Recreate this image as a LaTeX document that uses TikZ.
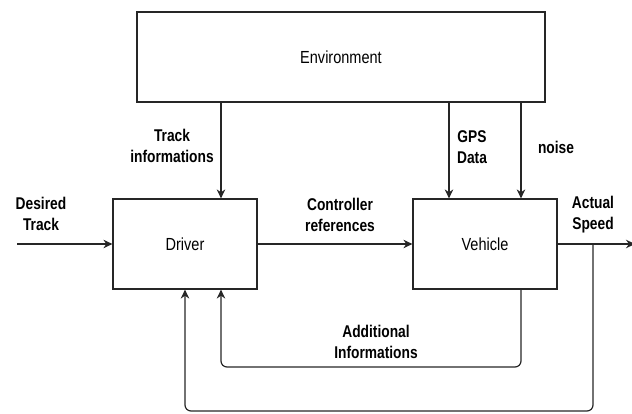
\documentclass[tikz,border=0pt]{standalone}
\usepackage{fontspec}
\setmainfont{Liberation Sans}[FakeStretch=0.83,BoldFeatures={FakeStretch=0.81}]
\usetikzlibrary{arrows.meta,calc}
\begin{document}
\begin{tikzpicture}[x=1pt,y=-1pt,
  block/.style={draw=black!85,line width=1.2pt,rectangle,minimum width=144pt,minimum height=90pt,
    inner sep=0pt,font=\fontsize{17.5}{20}\selectfont},
  lbl/.style={align=center,inner sep=0pt,font=\fontsize{17}{21}\selectfont\bfseries},
  arr/.style={draw=black!85,line width=1.2pt,-{Stealth[length=9pt,width=8.5pt]}},
  loop/.style={arr,rounded corners=6pt}]
\useasboundingbox (0,0) rectangle (632,414);

% blocks
\node[block,minimum width=408pt] (env) at (341,57) {Environment};
\node[block] (driver) at (185,244) {Driver};
\node[block] (vehicle) at (485,244) {Vehicle};

% connector end points
\coordinate (dA) at ($(driver.north)+(36,0)$);
\coordinate (dB) at ($(driver.south)+(36,0)$);
\coordinate (vA) at ($(vehicle.north)+(-36,0)$);
\coordinate (vB) at ($(vehicle.north)+(36,0)$);
\coordinate (vC) at ($(vehicle.south)+(36,0)$);
\coordinate (in) at (17,244);
\coordinate (out) at (635,244);
\coordinate (tap) at (593,244);
\coordinate (inner) at (0,367);
\coordinate (outer) at (0,411);

% signals from the environment
\draw[arr] (env.south -| dA) -- (dA);
\draw[arr] (env.south -| vA) -- (vA);
\draw[arr] (env.south -| vB) -- (vB);

% forward path
\draw[arr] (in) -- (driver.west);
\draw[arr] (driver.east) -- (vehicle.west);
\draw[arr] (vehicle.east) -- (out);

% feedback loops
\draw[loop] (vC) |- (inner -| dB) -- (dB);
\draw[loop] (tap) |- (outer -| driver.south) -- (driver.south);

% signal labels
\node[lbl] (lDesired) at (41,214) {Desired\\Track};
\node[lbl] (lTrack) at (172,146) {Track\\informations};
\node[lbl] (lGps) at (472,147) {GPS\\Data};
\node[lbl] (lNoise) at (556,147) {noise};
\node[lbl] (lCtrl) at (340,215) {Controller\\references};
\node[lbl] (lSpeed) at (593,215) {Actual\\Speed};
\node[lbl] (lAdd) at (376,342) {Additional\\Informations};
\end{tikzpicture}
\end{document}
